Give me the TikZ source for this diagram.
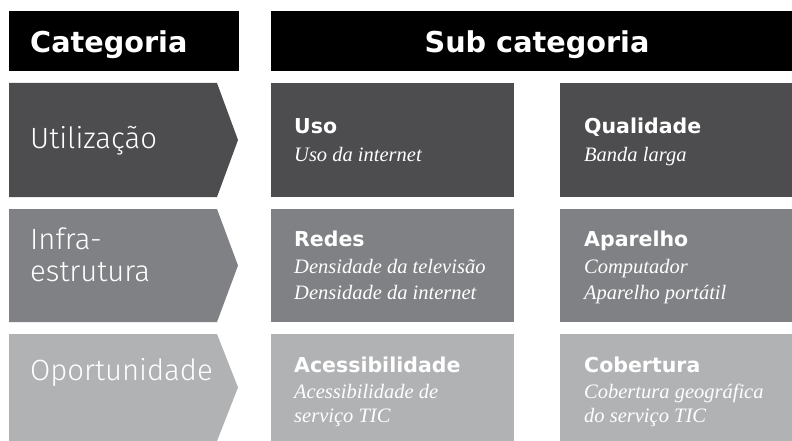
\documentclass[tikz,border=0pt]{standalone}
\usepackage{fontspec}
\newfontfamily\hdfont{DejaVu Sans}
\newfontfamily\catfont{Fira Sans Light}
\newfontfamily\itfont{Liberation Serif}
\definecolor{rowA}{HTML}{4D4D4F}
\definecolor{rowB}{HTML}{808184}
\definecolor{rowC}{HTML}{B1B2B4}
\tikzset{
  cell/.style={anchor=north west, inner sep=0pt, outer sep=0pt, draw=none},
  hdtext/.style={text=white, font=\hdfont\bfseries\fontsize{28.7}{34}\selectfont, inner sep=0pt},
  cattext/.style={text=white, font=\catfont\fontsize{29.3}{36}\selectfont, anchor=base west, inner sep=0pt},
  subtitle/.style={text=white, font=\hdfont\bfseries\fontsize{20.5}{24}\selectfont, anchor=base west, inner sep=0pt},
  subitem/.style={text=white, font=\itfont\itshape\fontsize{20.5}{24}\selectfont, anchor=base west, inner sep=0pt},
}
\begin{document}
\begin{tikzpicture}[x=1pt,y=-1pt]
\useasboundingbox (0,0) rectangle (792,441);
% headers
\node[cell, fill=black, minimum width=230pt, minimum height=60pt] (hcat) at (9,11) {};
\node[cell, fill=black, minimum width=521pt, minimum height=60pt] (hsub) at (271,11) {};
\node[hdtext, anchor=base west] (tcat) at (30,53) {Categoria};
\node[hdtext, anchor=base] (tsub) at (537,53) {Sub categoria};
% category arrows
\fill[rowA] (9,83) -- (217,83) -- (238,140) -- (217,197) -- (9,197) -- cycle;
\fill[rowB] (9,209) -- (217,209) -- (238,265.5) -- (217,322) -- (9,322) -- cycle;
\fill[rowC] (9,334) -- (217,334) -- (238,387.5) -- (217,441) -- (9,441) -- cycle;
\node[cattext] (c1) at (30,148) {Utilização};
\node[cattext] (c2a) at (30,249) {Infra-};
\node[cattext] (c2b) at (30,281) {estrutura};
\node[cattext] (c3) at (30,380) {Oportunidade};
% sub category boxes
\node[cell, fill=rowA, minimum width=243pt, minimum height=114pt] (b11) at (271,83) {};
\node[cell, fill=rowA, minimum width=232pt, minimum height=114pt] (b12) at (560,83) {};
\node[cell, fill=rowB, minimum width=243pt, minimum height=113pt] (b21) at (271,209) {};
\node[cell, fill=rowB, minimum width=232pt, minimum height=113pt] (b22) at (560,209) {};
\node[cell, fill=rowC, minimum width=243pt, minimum height=107pt] (b31) at (271,334) {};
\node[cell, fill=rowC, minimum width=232pt, minimum height=107pt] (b32) at (560,334) {};
% texts row 1
\node[subtitle] (t11) at (294,134) {Uso};
\node[subitem] (t11a) at (294,161) {Uso da internet};
\node[subtitle] (t12) at (584,134) {Qualidade};
\node[subitem] (t12a) at (584,161) {Banda larga};
% texts row 2
\node[subtitle] (t21) at (294,246) {Redes};
\node[subitem] (t21a) at (294,273) {Densidade da televisão};
\node[subitem] (t21b) at (294,299) {Densidade da internet};
\node[subtitle] (t22) at (584,246) {Aparelho};
\node[subitem] (t22a) at (584,273) {Computador};
\node[subitem] (t22b) at (584,299) {Aparelho portátil};
% texts row 3
\node[subtitle] (t31) at (294,372) {Acessibilidade};
\node[subitem] (t31a) at (294,398) {Acessibilidade de};
\node[subitem] (t31b) at (294,422) {serviço TIC};
\node[subtitle] (t32) at (584,372) {Cobertura};
\node[subitem] (t32a) at (584,398) {Cobertura geográfica};
\node[subitem] (t32b) at (584,422) {do serviço TIC};
\end{tikzpicture}
\end{document}
